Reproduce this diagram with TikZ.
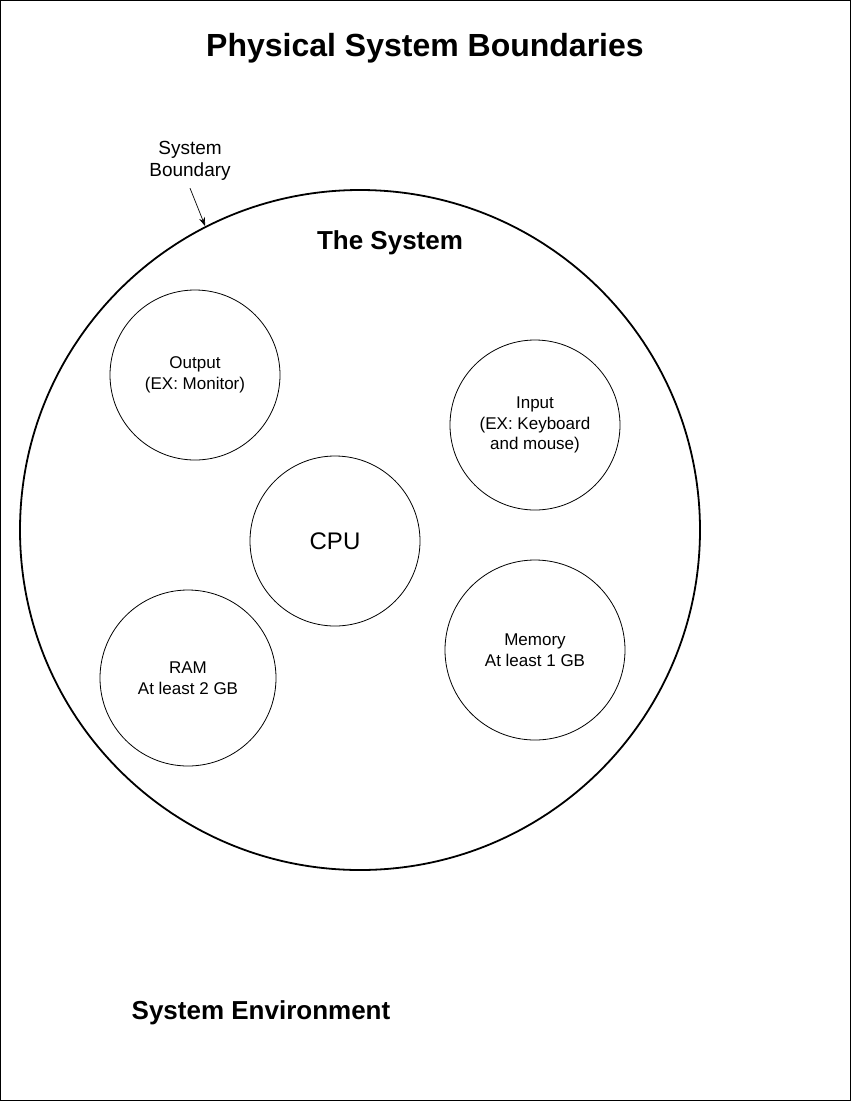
\documentclass[tikz,border=0pt]{standalone}
\usepackage{fontspec}
\setmainfont{Liberation Sans}
\usepackage{tikz}
\usetikzlibrary{arrows.meta}

\begin{document}
\begin{tikzpicture}[x=1pt,y=-1pt,
    bnode/.style={draw,circle,line width=1.8pt,minimum size=680pt,inner sep=0pt},
    cnode/.style={draw,circle,line width=0.8pt,minimum size=170pt,inner sep=0pt,align=center,font=\fontsize{17}{20.5}\selectfont},
    tnode/.style={font=\bfseries\fontsize{26}{31}\selectfont}]
    \useasboundingbox (0,0) rectangle (851,1101);
    \draw[line width=1.2pt] (0.6,0.6) rectangle (850.4,1100.4);

    \node (title) at (425,48) {\bfseries\fontsize{32}{38}\selectfont Physical System Boundaries};

    \node[bnode] (sys) at (360,530) {};
    \node[tnode] (syst) at (390,243) {The System};
    \node[tnode] (env) at (261,1013) {System Environment};

    \node[cnode] (out) at (195,375) {Output\\(EX: Monitor)};
    \node[cnode] (in) at (535,425) {Input\\(EX: Keyboard\\and mouse)};
    \node[cnode, font=\fontsize{24}{28}\selectfont] (cpu) at (335,541) {CPU};
    \node[cnode, minimum size=176pt] (ram) at (188,678) {RAM\\At least 2 GB};
    \node[cnode, minimum size=180pt] (mem) at (535,650) {Memory\\At least 1 GB};

    \node[align=center,font=\fontsize{19}{22}\selectfont] (bnd) at (190,161) {System\\Boundary};
    \draw[-{Stealth[length=9pt,width=6pt]}, line width=0.7pt] (bnd.south) ++(0,4) -- (sys.117);
\end{tikzpicture}
\end{document}
